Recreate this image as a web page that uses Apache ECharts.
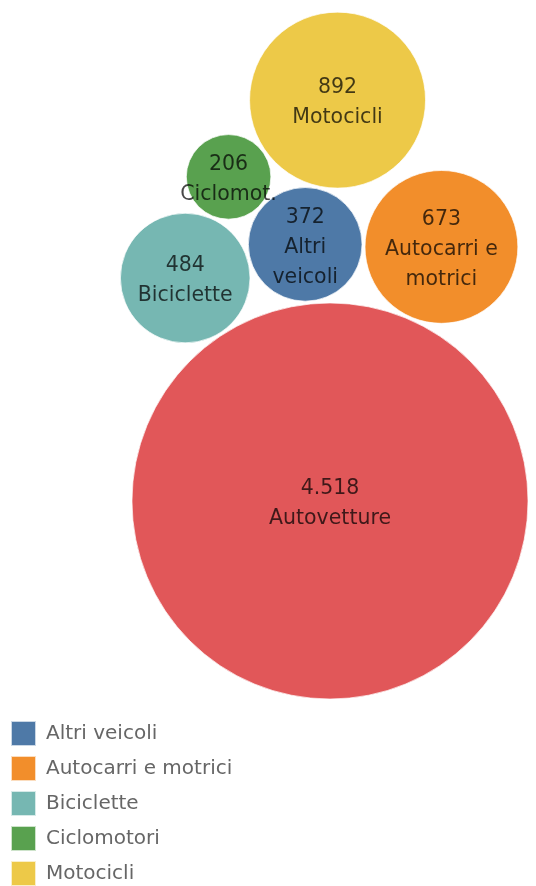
<!DOCTYPE html>
<html>
<head>
<meta charset="utf-8">
<script src="https://cdn.jsdelivr.net/npm/echarts@6/dist/echarts.min.js"></script>
<style>
  html, body { margin: 0; padding: 0; background: #fff; }
  #chart { width: 536px; height: 886px; }
</style>
</head>
<body>
<div id="chart"></div>
<script>
// Vehicle categories, counts and the text shown inside each bubble
const categories = ['Autovetture', 'Motocicli', 'Autocarri e motrici', 'Biciclette', 'Altri veicoli', 'Ciclomotori'];
const counts = [4518, 892, 673, 484, 372, 206];
const bubbleNames = ['Autovetture', 'Motocicli', 'Autocarri e\nmotrici', 'Biciclette', 'Altri\nveicoli', 'Ciclomot.'];
const legendOrder = ['Altri veicoli', 'Autocarri e motrici', 'Biciclette', 'Ciclomotori', 'Motocicli'];
const palette = {
  'Autovetture': '#e15759',
  'Motocicli': '#edc948',
  'Autocarri e motrici': '#f28e2b',
  'Biciclette': '#76b7b2',
  'Altri veicoli': '#4e79a7',
  'Ciclomotori': '#59a14f'
};

// Bubble area is proportional to the count
const K = 2.946;
const GAP = 3;
const radius = v => K * Math.sqrt(v);
const R = {};
categories.forEach((c, i) => { R[c] = radius(counts[i]); });

// Place a circle of radius r tangent to two already placed circles
function tangent(p1, p2, r, pick) {
  const dx = p2.x - p1.x, dy = p2.y - p1.y;
  const d = Math.hypot(dx, dy);
  const R1 = p1.r + r + GAP, R2 = p2.r + r + GAP;
  const a = (d * d + R1 * R1 - R2 * R2) / (2 * d);
  const h = Math.sqrt(Math.max(0, R1 * R1 - a * a));
  const bx = p1.x + a * dx / d, by = p1.y + a * dy / d;
  const c1 = { x: bx - h * dy / d, y: by + h * dx / d, r };
  const c2 = { x: bx + h * dy / d, y: by - h * dx / d, r };
  return pick(c1, c2);
}
const largerX = (a, b) => (a.x > b.x ? a : b);
const smallerY = (a, b) => (a.y < b.y ? a : b);

// Packing: the largest bubble anchors the cluster, the others are chained around it
const pos = {};
pos['Autovetture'] = { x: 330, y: 501, r: R['Autovetture'] };
const ang = -123 * Math.PI / 180;
const dAB = R['Autovetture'] + R['Biciclette'] + GAP;
pos['Biciclette'] = { x: 330 + dAB * Math.cos(ang), y: 501 + dAB * Math.sin(ang), r: R['Biciclette'] };
pos['Altri veicoli'] = tangent(pos['Autovetture'], pos['Biciclette'], R['Altri veicoli'], largerX);
pos['Autocarri e motrici'] = tangent(pos['Autovetture'], pos['Altri veicoli'], R['Autocarri e motrici'], largerX);
pos['Ciclomotori'] = tangent(pos['Biciclette'], pos['Altri veicoli'], R['Ciclomotori'], smallerY);
pos['Motocicli'] = tangent(pos['Altri veicoli'], pos['Ciclomotori'], R['Motocicli'], smallerY);

const fmt = n => String(n).replace(/\B(?=(\d{3})+(?!\d))/g, '.');

const series = categories.map((c, i) => ({
  name: c,
  type: 'scatter',
  data: [[pos[c].x, pos[c].y, counts[i]]],
  symbolSize: d => 2 * radius(d[2]),
  itemStyle: { color: palette[c], opacity: 1, borderColor: 'rgba(255,255,255,0.7)', borderWidth: 1 },
  label: {
    show: true,
    position: 'inside',
    offset: [0, 3],
    formatter: p => fmt(p.data[2]) + '\n' + bubbleNames[i],
    fontFamily: 'DejaVu Sans',
    fontSize: 20.5,
    lineHeight: 30,
    color: 'rgba(0,0,0,0.72)'
  },
  emphasis: { disabled: true },
  z: 2
}));

const chart = echarts.init(document.getElementById('chart'), null, { renderer: 'canvas' });
chart.setOption({
  animation: false,
  backgroundColor: '#fff',
  grid: { left: 0, right: 0, top: 0, bottom: 0 },
  xAxis: { type: 'value', min: 0, max: 536, show: false },
  yAxis: { type: 'value', min: 0, max: 886, inverse: true, show: false },
  legend: {
    data: legendOrder,
    orient: 'vertical',
    left: 10,
    top: 720,
    height: 300,
    padding: 0,
    icon: 'rect',
    itemWidth: 25,
    itemHeight: 25,
    itemGap: 8,
    selectedMode: false,
    textStyle: { fontFamily: 'DejaVu Sans', fontSize: 20, lineHeight: 25, color: '#666', padding: [0, 0, 0, 5] }
  },
  series
});
</script>
</body>
</html>
